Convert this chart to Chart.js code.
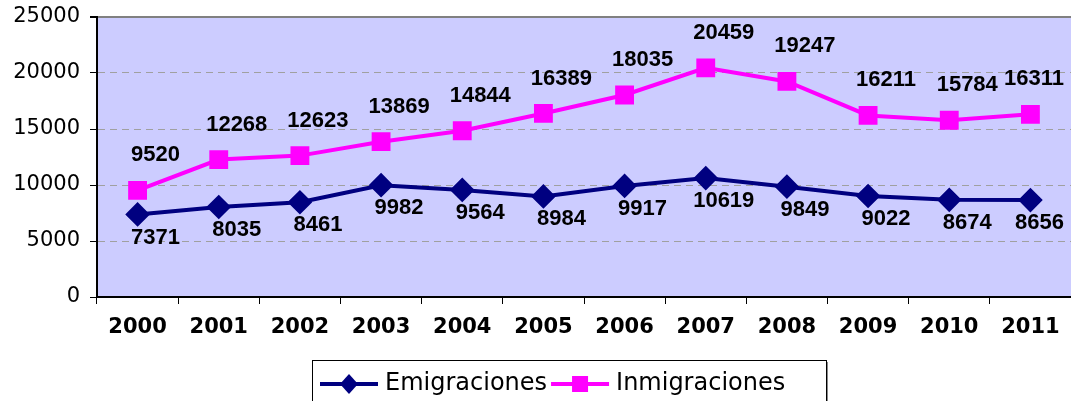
<!DOCTYPE html>
<html>
<head>
<meta charset="utf-8">
<script src="https://cdn.jsdelivr.net/npm/chart.js@4"></script>
<style>
  html, body { margin: 0; padding: 0; background: #fff; }
  #wrap { width: 1071px; height: 401px; }
</style>
</head>
<body>
<div id="wrap"><canvas id="myChart" width="1071" height="401"></canvas></div>
<script>
var years = ["2000","2001","2002","2003","2004","2005","2006","2007","2008","2009","2010","2011"];
var emigraciones = [7371,8035,8461,9982,9564,8984,9917,10619,9849,9022,8674,8656];
var inmigraciones = [9520,12268,12623,13869,14844,16389,18035,20459,19247,16211,15784,16311];
var yTicks = [0,5000,10000,15000,20000,25000];

// labels of the values, drawn next to each point
var valueLabels = {
  id: 'valueLabels',
  afterDatasetsDraw: function (chart) {
    var c = chart.ctx;
    c.save();
    c.font = 'bold 22px "Liberation Sans", Arial, sans-serif';
    c.fillStyle = '#000';
    c.textAlign = 'center';
    c.textBaseline = 'middle';
    chart.data.datasets.forEach(function (ds, i) {
      var meta = chart.getDatasetMeta(i);
      var dy = i == 0 ? 23 : -35;
      meta.data.forEach(function (pt, j) {
        var txt = String(ds.data[j]);
        var half = c.measureText(txt).width / 2;
        // keep the label inside the picture
        var x = Math.min(pt.x + 18, chart.width - 7 - half);
        c.fillText(txt, x, pt.y + dy);
      });
    });
    c.restore();
  }
};

// excel style legend: line + marker, inside a box
var boxLegend = {
  id: 'boxLegend',
  afterDraw: function (chart) {
    var c = chart.ctx;
    c.save();
    var top = 360, left = 312, right = 826;
    c.fillStyle = '#888';
    c.fillRect(right, top + 2, 2, 401 - top);
    c.strokeStyle = '#000';
    c.lineWidth = 1;
    c.strokeRect(left + 0.5, top + 0.5, right - left, 60);
    c.font = '24px "DejaVu Sans", Verdana, sans-serif';
    c.textBaseline = 'middle';
    var x = 320, y = 384;
    chart.data.datasets.forEach(function (ds) {
      c.strokeStyle = ds.borderColor;
      c.lineWidth = 4;
      c.beginPath();
      c.moveTo(x, y);
      c.lineTo(x + 58, y);
      c.stroke();
      c.fillStyle = ds.backgroundColor;
      var mx = x + 29;
      if (ds.pointStyle == 'rectRot') {
        c.beginPath();
        c.moveTo(mx, y - 10); c.lineTo(mx + 9, y); c.lineTo(mx, y + 10); c.lineTo(mx - 9, y);
        c.closePath(); c.fill();
      } else {
        c.fillRect(mx - 8, y - 8, 16, 16);
      }
      c.fillStyle = '#000';
      c.fillText(ds.label, x + 65, y);
      x += 65 + c.measureText(ds.label).width + 4;
    });
    c.restore();
  }
};

// plot area background
var plotBg = {
  id: 'plotBg',
  beforeDraw: function (chart) {
    var a = chart.chartArea, c = chart.ctx;
    c.save();
    c.fillStyle = '#CCCCFF';
    c.fillRect(a.left, a.top, a.right - a.left, a.bottom - a.top);
    c.restore();
  }
};

var ctx = document.getElementById('myChart').getContext('2d');
var myChart = new Chart(ctx, {
  type: 'line',
  data: {
    labels: years,
    datasets: [{
      label: 'Emigraciones',
      data: emigraciones,
      borderColor: '#000080',
      backgroundColor: '#000080',
      borderWidth: 4,
      pointStyle: 'rectRot',
      pointRadius: 9.5,
      pointHoverRadius: 9.5,
      tension: 0
    }, {
      label: 'Inmigraciones',
      data: inmigraciones,
      borderColor: '#FF00FF',
      backgroundColor: '#FF00FF',
      borderWidth: 4,
      pointStyle: 'rect',
      pointRadius: 10.5,
      pointHoverRadius: 10.5,
      tension: 0
    }]
  },
  options: {
    responsive: false,
    animation: false,
    layout: { autoPadding: false, padding: { top: 17, right: 0, left: 0, bottom: 0 } },
    plugins: {
      legend: { display: false },
      tooltip: { enabled: false }
    },
    scales: {
      x: {
        offset: true,
        grid: {
          offset: true,
          drawOnChartArea: false,
          color: '#000',
          tickLength: 7,
          tickColor: '#000'
        },
        border: { color: '#000', width: 2 },
        ticks: {
          color: '#000',
          font: { family: '"DejaVu Sans", Verdana, sans-serif', size: 21, weight: 'bold' },
          padding: 11,
          maxRotation: 0,
          autoSkip: false
        },
        afterFit: function (s) { s.height = 104; s.paddingRight = 0; s.paddingLeft = 0; }
      },
      y: {
        min: 0,
        max: 25000,
        afterBuildTicks: function (s) { s.ticks = yTicks.map(function (v) { return { value: v }; }); },
        grid: {
          color: function (c) { return c.tick.value == 25000 ? '#808080' : '#a0a0a0'; },
          lineWidth: function (c) { return c.tick.value == 25000 ? 2 : 1; },
          tickLength: 7,
          tickColor: '#000',
          tickBorderDash: []
        },
        border: { color: '#000', width: 2, dash: function (c) { return c.tick && c.tick.value == 25000 ? [] : [7, 5]; } },
        ticks: {
          color: '#000',
          font: { family: '"DejaVu Sans", Verdana, sans-serif', size: 21 },
          padding: 10,
          callback: function (v) { return String(v); }
        },
        afterFit: function (s) { s.width = 97; s.paddingTop = 0; s.paddingBottom = 0; }
      }
    }
  },
  plugins: [plotBg, valueLabels, boxLegend]
});
</script>
</body>
</html>
